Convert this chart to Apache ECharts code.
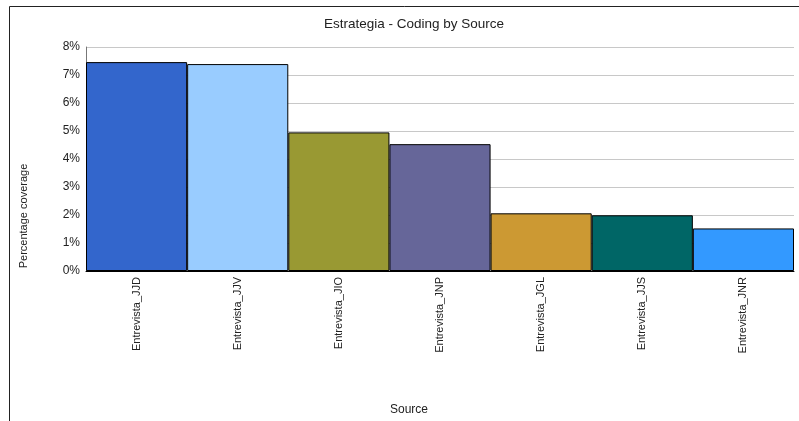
<!DOCTYPE html>
<html>
<head>
<meta charset="utf-8">
<script src="https://cdn.jsdelivr.net/npm/echarts@6/dist/echarts.min.js"></script>
<style>html,body{margin:0;padding:0;background:#fff;}#c{width:799px;height:421px;}</style>
</head>
<body>
<div id="c"></div>
<script>
var categories = ['Entrevista_JJD','Entrevista_JJV','Entrevista_JIO','Entrevista_JNP','Entrevista_JGL','Entrevista_JJS','Entrevista_JNR'];
var coverage = [7.46, 7.39, 4.95, 4.53, 2.06, 1.99, 1.52];
var yTicks = [0,1,2,3,4,5,6,7,8];
var barColors = ['#3366CC','#99CCFF','#999933','#666699','#CC9933','#006666','#3399FF'];

var font = 'Liberation Sans, Arial, sans-serif';
var chart = echarts.init(document.getElementById('c'), null, {renderer:'canvas'});
chart.setOption({
  animation: false,
  backgroundColor: '#fff',
  title: {
    text: 'Estrategia - Coding by Source',
    left: 409, top: 12, textAlign: 'center',
    textStyle: {fontFamily: font, fontSize: 13.5, fontWeight: 'normal', color: '#222'}
  },
  grid: {left: 86, right: 5, top: 47, bottom: 150, containLabel: false},
  xAxis: {
    type: 'category',
    data: categories,
    axisLine: {show: true, lineStyle: {color: '#000', width: 1}},
    axisTick: {show: false},
    axisLabel: {rotate: 90, margin: 6, fontFamily: font, fontSize: 11, color: '#222', interval: 0}
  },
  yAxis: {
    type: 'value',
    min: yTicks[0], max: yTicks[yTicks.length-1], interval: 1,
    axisLine: {show: true, lineStyle: {color: '#777', width: 1}},
    axisTick: {show: false},
    axisLabel: {formatter: '{value}%', margin: 6, fontFamily: font, fontSize: 12, color: '#222'},
    splitLine: {show: true, lineStyle: {color: '#c8c8c8', width: 1}}
  },
  series: [{
    type: 'bar',
    barCategoryGap: '0%',
    data: coverage.map(function(v, i){
      return {value: v, itemStyle: {color: barColors[i], borderColor: '#000', borderWidth: 1}};
    })
  }],
  graphic: [
    {type: 'polyline', shape: {points: [[9.5, 421], [9.5, 6.5], [799, 6.5]]}, style: {stroke: '#222', lineWidth: 1, fill: null}, silent: true},
    {type: 'text', x: 24, y: 216, rotation: Math.PI/2,
     style: {text: 'Percentage coverage', fontFamily: font, fontSize: 11, fill: '#222', align: 'center', verticalAlign: 'middle'}},
    {type: 'text', x: 409, y: 410,
     style: {text: 'Source', fontFamily: font, fontSize: 12, fill: '#222', align: 'center', verticalAlign: 'middle'}}
  ]
});
</script>
</body>
</html>
